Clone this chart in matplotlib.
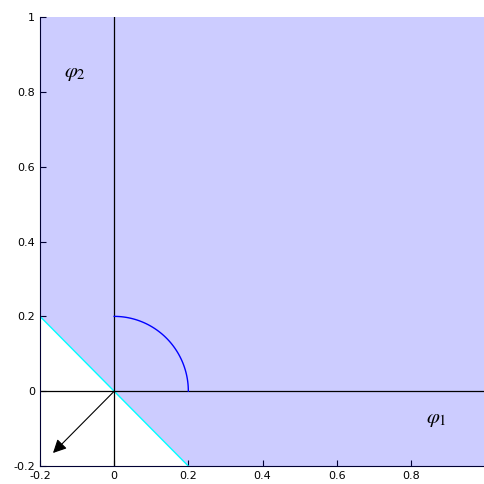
import numpy as np
import matplotlib
matplotlib.use("Agg")
import matplotlib.pyplot as plt

plt.rcParams['mathtext.fontset'] = 'stix'

# region phi1 + phi2 >= 0
region_x = [-0.2, 0.2, 1.0, 1.0, -0.2]
region_y = [0.2, -0.2, -0.2, 1.0, 1.0]

boundary_x = [-0.2, 0.2]
boundary_y = [0.2, -0.2]

arc_radius = 0.2
arc_deg = [0, 90]

arrow_end = (-0.165, -0.165)

xticks = [-0.2, 0, 0.2, 0.4, 0.6, 0.8]
yticks = [-0.2, 0, 0.2, 0.4, 0.6, 0.8, 1]

fig = plt.figure(figsize=(4.85, 4.84), dpi=100)
ax = fig.add_axes([0.0825, 0.037, 0.9175, 0.928])

ax.fill(region_x, region_y, color='#ccccff', lw=0)
ax.plot(boundary_x, boundary_y, color='cyan', lw=1)
ax.axhline(0, color='black', lw=0.9)
ax.axvline(0, color='black', lw=0.9)

t = np.linspace(np.radians(arc_deg[0]), np.radians(arc_deg[1]), 50)
ax.plot(arc_radius * np.cos(t), arc_radius * np.sin(t), color='blue', lw=1)

ax.annotate('', xy=arrow_end, xytext=(0, 0),
            arrowprops=dict(arrowstyle='-|>', color='black', lw=0.8,
                            mutation_scale=20, shrinkA=0, shrinkB=0))

ax.text(-0.105, 0.85, r'$\varphi_2$', fontsize=15, ha='center', va='center')
ax.text(0.87, -0.075, r'$\varphi_1$', fontsize=15, ha='center', va='center')

ax.set_xlim(-0.2, 1.0)
ax.set_ylim(-0.2, 1.0)
ax.set_xticks(xticks)
ax.set_yticks(yticks)
ax.set_xticklabels(['-0.2', '0', '0.2', '0.4', '0.6', '0.8'])
ax.set_yticklabels(['-0.2', '0', '0.2', '0.4', '0.6', '0.8', '1'])
ax.tick_params(direction='in', length=4, labelsize=8, colors='#000033',
               labelcolor='black')
ax.spines['top'].set_visible(False)
ax.spines['right'].set_visible(False)
ax.spines['left'].set_color('#000033')
ax.spines['bottom'].set_color('#000033')

fig.savefig('out.png', dpi=100)
